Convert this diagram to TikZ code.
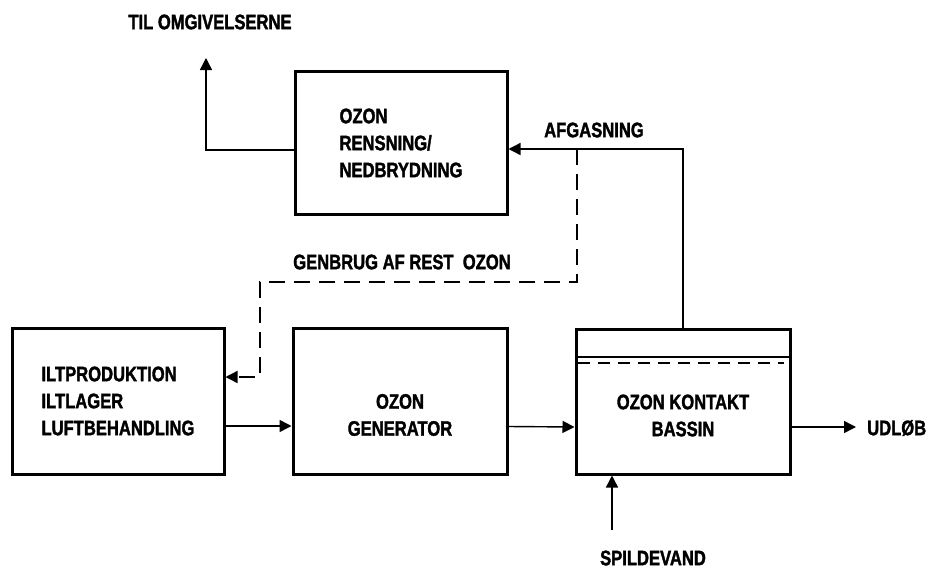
\documentclass[tikz,border=0pt]{standalone}
\usepackage{fontspec}
\newfontfamily\nf{Liberation Sans}[FakeStretch=0.79,FakeBold=1.6]
\usetikzlibrary{arrows.meta}
\begin{document}
\begin{tikzpicture}[x=1pt,y=-1pt,
  box/.style={draw,line width=3pt,inner sep=0pt},
  lbl/.style={font=\nf\bfseries\fontsize{21}{27}\selectfont,inner sep=0pt},
  conn/.style={line width=1.4pt},
  arr/.style={conn,-{Triangle[length=12pt,width=12pt]}},
  dsh/.style={dash pattern=on 16pt off 9pt}]
\useasboundingbox (0,0) rectangle (929,568);
% boxes
\node[box,minimum width=212pt,minimum height=143pt] (rens) at (401,143) {};
\node[box,minimum width=212pt,minimum height=146pt] (ilt) at (118,401) {};
\node[box,minimum width=214pt,minimum height=146pt] (gen) at (400,401) {};
\node[box,minimum width=214pt,minimum height=145pt] (bas) at (683,401.5) {};
% box texts
\node[lbl,align=left] (renst) at (rens.center) {OZON\\RENSNING/\\NEDBRYDNING};
\node[lbl,align=left] (iltt) at (ilt.center) {ILTPRODUKTION\\ILTLAGER\\LUFTBEHANDLING};
\node[lbl,align=center] (gent) at ([yshift=-14pt]gen.center) {OZON\\GENERATOR};
\node[lbl,align=center] (bast) at ([yshift=-14pt]bas.center) {OZON KONTAKT\\BASSIN};
% free labels
\node[lbl] (til) at (210,22) {TIL OMGIVELSERNE};
\node[lbl] (genbrug) at (402,262) {GENBRUG AF REST\ \ OZON};
\node[lbl] (afg) at (594,130) {AFGASNING};
\node[lbl,anchor=west] (udl) at (867,428) {UDLØB};
\node[lbl] (spild) at (653,558) {SPILDEVAND};
% inner lines of bassin
\coordinate (s1) at (bas.west |- 0,357);
\coordinate (s2) at (bas.east |- 0,357);
\draw[conn] (s1) -- (s2);
\coordinate (d1) at (578,363);
\coordinate (d2) at (784,363);
\draw[conn,dash pattern=on 12pt off 8pt] (d1) -- (d2);
% connectors
\coordinate (tilc) at (206,58);
\draw[arr] ([yshift=-7pt]rens.west) -| (tilc);
\coordinate (afgc) at ([yshift=-6pt]rens.east);
\draw[arr] (bas.north) |- (afgc);
\coordinate (dstart) at (577,149);
\coordinate (dcorner) at (260,282);
\draw[arr,dsh] (dstart) |- (dcorner) |- ([yshift=24pt]ilt.east);
\draw[arr] ([yshift=-25pt]ilt.east) -- ([yshift=-25pt]gen.west);
\draw[arr] ([yshift=-25.5pt]gen.east) -- ([yshift=-25.5pt]bas.west);
\coordinate (udc) at (856,427);
\draw[arr] ([yshift=-25.5pt]bas.east) -- (udc);
\coordinate (spc) at (612,530);
\draw[arr] (spc) -- (spc |- bas.south);
\end{tikzpicture}
\end{document}
